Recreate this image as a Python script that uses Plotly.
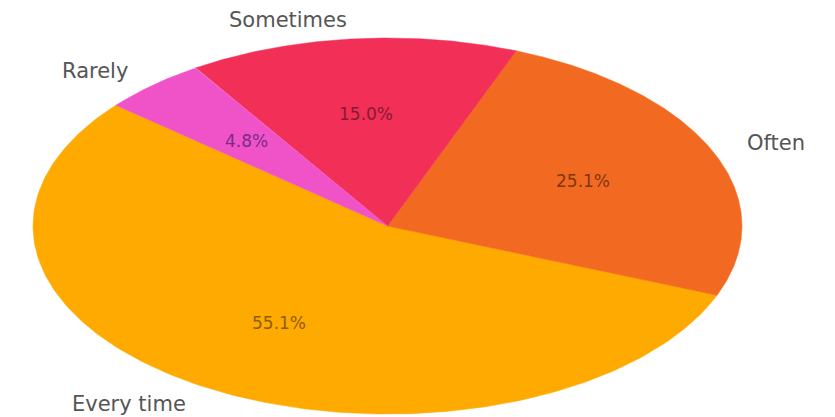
import numpy as np
import plotly.graph_objects as go

# Data
labels = ["Every time", "Often", "Sometimes", "Rarely"]
values = [55.1, 25.1, 15.0, 4.8]
pct_labels = ["55.1%", "25.1%", "15.0%", "4.8%"]

# Style
colors = ["#FFAA00", "#F26A21", "#F22F57", "#F052C8"]
pct_colors = ["#8C5E00", "#7E3610", "#851B33", "#7A2A8A"]
start_angle = 140.0  # degrees, counter-clockwise like matplotlib

# page body has an 8px margin, so the figure starts at (8, 8)
OFF = 8
W, H = 835 - OFF, 417 - OFF
cx_px, cy_px = 387.5 - OFF, 226.0 - OFF
rx_px, ry_px = 354.5, 188.0

fig = go.Figure()
total = sum(values)
theta0 = start_angle
annotations = []
for lab, val, col, pl, pc in zip(labels, values, colors, pct_labels, pct_colors):
    span = 360.0 * val / total
    th = np.radians(np.linspace(theta0, theta0 + span, 200))
    xs = np.concatenate([[0.0], np.cos(th), [0.0]])
    ys = np.concatenate([[0.0], np.sin(th), [0.0]])
    fig.add_trace(go.Scatter(x=xs, y=ys, mode="lines", fill="toself",
                             fillcolor=col, line=dict(color=col, width=0.5),
                             hoverinfo="text", text=lab, showlegend=False))
    mid = np.radians(theta0 + span / 2)
    mx, my = np.cos(mid), np.sin(mid)
    annotations.append(dict(x=1.1 * mx, y=1.1 * my, text=lab, showarrow=False,
                            xanchor="left" if mx > 0 else "right", yanchor="middle",
                            font=dict(family="DejaVu Sans", size=21, color="#555555")))
    annotations.append(dict(x=0.6 * mx, y=0.6 * my, text=pl, showarrow=False,
                            xanchor="center", yanchor="middle",
                            font=dict(family="DejaVu Sans", size=17, color=pc)))
    theta0 += span

fig.update_layout(
    width=W, height=H,
    margin=dict(l=0, r=0, t=0, b=0),
    paper_bgcolor="white", plot_bgcolor="white",
    xaxis=dict(range=[-cx_px / rx_px, (W - cx_px) / rx_px], visible=False, fixedrange=True),
    yaxis=dict(range=[(cy_px - H) / ry_px, cy_px / ry_px], visible=False, fixedrange=True),
    annotations=annotations,
)
fig.write_html("out.html")
